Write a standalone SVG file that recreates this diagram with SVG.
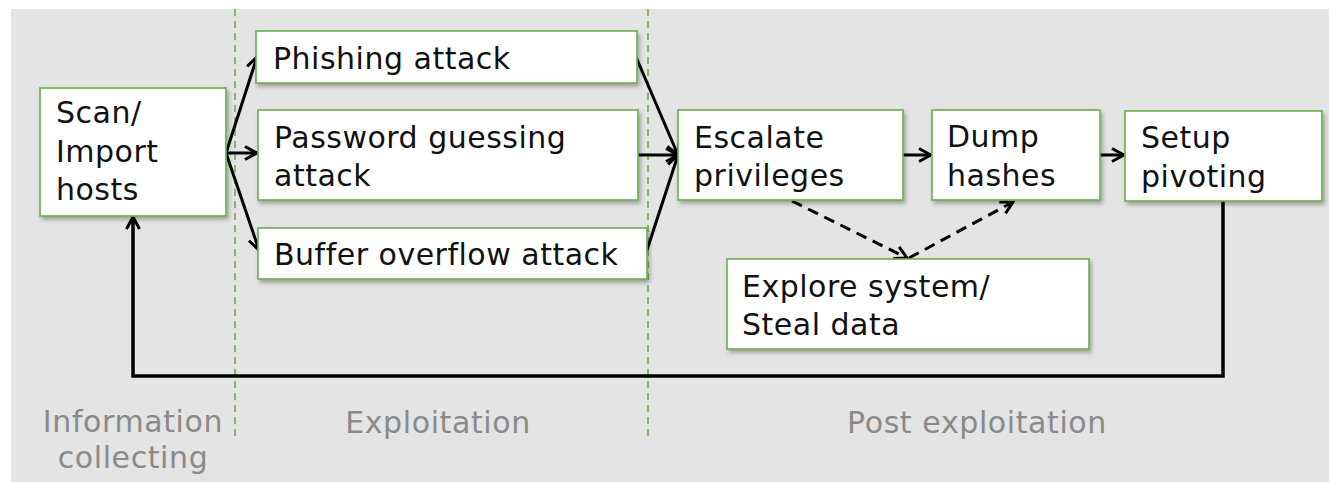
<svg xmlns="http://www.w3.org/2000/svg" width="1329" height="482" viewBox="0 0 1329 482">
  <style>
    .box { fill: #ffffff; stroke: #6aad4f; stroke-width: 1.6; filter: url(#shadow); }
    .txt { font-family: "DejaVu Sans", Verdana, sans-serif; font-size: 30px; letter-spacing: 0.5px; fill: #111111; }
    .phase { font-family: "DejaVu Sans", Verdana, sans-serif; font-size: 30px; letter-spacing: 0.6px; fill: #8a8a8a; text-anchor: middle; }
    .sep { stroke: #6aad4f; stroke-width: 1.6; stroke-dasharray: 7 5; fill: none; }
    .flow { stroke: #000000; stroke-width: 3; fill: none; marker-end: url(#arrow); }
    .dash { stroke: #000000; stroke-width: 3; fill: none; stroke-dasharray: 11 7; marker-end: url(#arrow); }
    .loop { stroke: #000000; stroke-width: 3.5; fill: none; marker-end: url(#arrow); }
  </style>
  <defs>
    <filter id="shadow" x="-10%" y="-10%" width="120%" height="130%">
      <feDropShadow dx="2" dy="3" stdDeviation="2" flood-color="#000000" flood-opacity="0.3"/>
    </filter>
    <!-- open chevron arrowhead, fixed size in user units -->
    <marker id="arrow" viewBox="0 0 16 16" refX="14" refY="8" markerWidth="16" markerHeight="16" markerUnits="userSpaceOnUse" orient="auto">
      <path d="M2,1.5 L14,8 L2,14.5" fill="none" stroke="#000000" stroke-width="3" stroke-linejoin="miter"/>
    </marker>
  </defs>

  <!-- canvas -->
  <rect x="11" y="9" width="1318" height="473" fill="#e4e4e4"/>

  <!-- phase separators -->
  <g id="separators">
    <line class="sep" x1="235" y1="9" x2="235" y2="438"/>
    <line class="sep" x1="648" y1="9" x2="648" y2="438"/>
  </g>

  <!-- connectors -->
  <g id="connectors">
    <line class="flow" x1="226" y1="153" x2="257" y2="57"/>
    <line class="flow" x1="226" y1="153" x2="257" y2="153"/>
    <line class="flow" x1="226" y1="153" x2="259" y2="250"/>
    <line class="flow" x1="636" y1="57" x2="678" y2="155"/>
    <line class="flow" x1="638" y1="155" x2="678" y2="155"/>
    <line class="flow" x1="647" y1="250" x2="678" y2="155"/>
    <line class="flow" x1="903" y1="155" x2="931" y2="155"/>
    <line class="flow" x1="1100" y1="155" x2="1124" y2="155"/>
    <line class="dash" x1="792" y1="201" x2="907" y2="258"/>
    <line class="dash" x1="909" y1="258" x2="1013" y2="202"/>
    <polyline class="loop" points="1223,201 1223,376 133,376 133,217"/>
  </g>

  <g id="scan">
    <rect class="box" x="40" y="88" width="186" height="128"/>
    <text class="txt" x="56" y="123">Scan/</text>
    <text class="txt" x="56" y="162">Import</text>
    <text class="txt" x="56" y="200">hosts</text>
  </g>

  <g id="phishing">
    <rect class="box" x="256" y="31" width="381" height="52"/>
    <text class="txt" x="273" y="69">Phishing attack</text>
  </g>

  <g id="password">
    <rect class="box" x="258" y="110" width="380" height="90"/>
    <text class="txt" x="274" y="148">Password guessing</text>
    <text class="txt" x="274" y="186">attack</text>
  </g>

  <g id="buffer">
    <rect class="box" x="258" y="228" width="389" height="51"/>
    <text class="txt" x="274" y="265">Buffer overflow attack</text>
  </g>

  <g id="escalate">
    <rect class="box" x="678" y="110" width="225" height="90"/>
    <text class="txt" x="694" y="148">Escalate</text>
    <text class="txt" x="694" y="186">privileges</text>
  </g>

  <g id="dump">
    <rect class="box" x="932" y="110" width="168" height="90"/>
    <text class="txt" x="947" y="147">Dump</text>
    <text class="txt" x="947" y="186">hashes</text>
  </g>

  <g id="pivot">
    <rect class="box" x="1125" y="111" width="197" height="90"/>
    <text class="txt" x="1141" y="148">Setup</text>
    <text class="txt" x="1141" y="187">pivoting</text>
  </g>

  <g id="explore">
    <rect class="box" x="727" y="259" width="362" height="90"/>
    <text class="txt" x="742" y="297">Explore system/</text>
    <text class="txt" x="742" y="335">Steal data</text>
  </g>

  <!-- phase labels -->
  <g id="phases">
    <text class="phase" x="133" y="432">Information</text>
    <text class="phase" x="133" y="468">collecting</text>
    <text class="phase" x="438" y="433">Exploitation</text>
    <text class="phase" x="977" y="433">Post exploitation</text>
  </g>
</svg>
